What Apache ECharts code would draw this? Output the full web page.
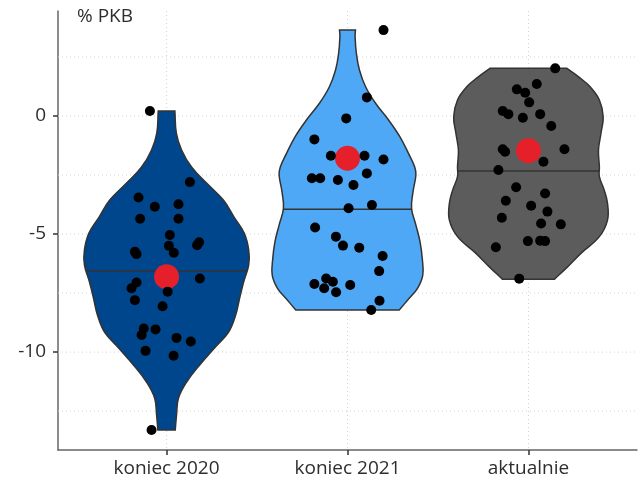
<!DOCTYPE html>
<html>
<head>
<meta charset="utf-8">
<script src="https://cdn.jsdelivr.net/npm/echarts@6/dist/echarts.min.js"></script>
<style>
  html, body { margin: 0; padding: 0; background: #fff; }
  #chart { width: 639px; height: 482px; }
</style>
</head>
<body>
<div id="chart"></div>
<script>
// kategorie i siatka
const categories = ['koniec 2020', 'koniec 2021', 'aktualnie'];
const yTicks = [-10, -5, 0];
const gridY = [2.5, 0, -2.5, -5, -7.5, -10, -12.5];
const gridX = [1, 2, 3];

// punkty (wartość, przesunięcie jitter w jednostkach kategorii)
const values2020 = [0.21, -2.80, -3.45, -3.84, -3.74, -4.35, -4.35, -5.04, -5.35, -5.47, -5.50, -5.75, -5.85, -5.79,
  -6.88, -7.05, -7.30, -7.44, -7.80, -8.06, -9.00, -9.04, -9.28, -9.40, -9.55, -9.95, -10.16, -13.30];
const jitter2020 = [-0.092, 0.129, -0.155, -0.065, 0.066, -0.146, 0.066, 0.018, 0.180, 0.169, 0.013, -0.175, -0.166, 0.040,
  0.184, -0.166, -0.194, 0.006, -0.175, -0.022, -0.126, -0.061, -0.138, 0.055, 0.134, -0.116, 0.039, -0.083];

const values2021 = [3.64, 0.79, -0.10, -0.99, -1.68, -1.68, -1.84, -2.43, -2.64, -2.64, -2.71, -2.92, -3.91, -3.77,
  -4.72, -5.11, -5.49, -5.58, -5.93, -6.57, -7.12, -6.88, -7.30, -7.02, -7.47, -7.16, -7.83, -8.22];
const jitter2021 = [0.199, 0.107, -0.007, -0.183, -0.092, 0.094, 0.199, 0.107, -0.197, -0.151, -0.053, 0.033, 0.006, 0.135,
  -0.179, -0.064, -0.025, 0.065, 0.194, 0.175, -0.183, -0.118, -0.129, -0.081, -0.063, 0.015, 0.177, 0.131];

const valuesNow = [2.02, 1.36, 1.13, 0.99, 0.58, 0.21, 0.08, -0.07, 0.08, -0.42, -1.41, -1.51, -1.41, -1.94,
  -2.29, -3.02, -3.28, -3.59, -3.80, -4.05, -4.31, -4.55, -4.59, -5.30, -5.28, -5.30, -5.56, -6.89];
const jitterNow = [0.148, 0.046, -0.064, -0.018, 0.004, -0.142, -0.111, -0.031, 0.065, 0.126, -0.142, -0.129, 0.199, 0.083,
  -0.166, -0.068, 0.092, -0.125, 0.015, 0.105, -0.147, 0.070, 0.179, -0.003, 0.065, 0.092, -0.180, -0.051];

// profil gęstości skrzypiec (poziom, połowa szerokości)
const densY2020 = [0.21, -0.72, -1.44, -2.16, -2.84, -3.56, -4.28, -4.96, -5.68, -6.31, -7.03, -7.71, -8.43, -9.15,
  -9.83, -10.55, -11.27, -11.95, -12.67, -13.30];
const densW2020 = [0.046, 0.054, 0.083, 0.138, 0.221, 0.314, 0.373, 0.429, 0.454, 0.454, 0.426, 0.404, 0.382, 0.343,
  0.265, 0.183, 0.111, 0.066, 0.055, 0.048];

const densY2021 = [3.64, 3.36, 2.66, 1.95, 1.24, 0.54, -0.17, -0.88, -1.58, -2.15, -2.50, -3.21, -3.91, -4.62,
  -5.33, -6.03, -6.74, -7.30, -7.72, -8.22];
const densW2021 = [0.044, 0.042, 0.049, 0.066, 0.100, 0.155, 0.227, 0.290, 0.337, 0.371, 0.378, 0.362, 0.354, 0.378,
  0.401, 0.413, 0.416, 0.387, 0.341, 0.286];

const densYNow = [2.02, 1.66, 1.24, 0.68, -0.03, -0.73, -1.44, -2.15, -2.57, -3.14, -3.70, -4.41, -5.11, -5.82, -6.39, -6.92];
const densWNow = [0.212, 0.277, 0.341, 0.392, 0.413, 0.401, 0.387, 0.392, 0.392, 0.419, 0.437, 0.437, 0.392, 0.290, 0.216, 0.143];

const means = [-6.81, -1.79, -1.47];
const medians = [-6.57, -3.95, -2.33];

const densY = [densY2020, densY2021, densYNow];
const densW = [densW2020, densW2021, densWNow];
const values = [values2020, values2021, valuesNow];
const jitters = [jitter2020, jitter2021, jitterNow];

const violinColors = ['#00468c', '#4fa8f6', '#5c5c5c'];
const textColor = '#2e2e2e';
const font = "'Open Sans', sans-serif";

const chart = echarts.init(document.getElementById('chart'));

function renderViolin(params, api) {
  const idx = params.dataIndex;
  const g = api.value(0);
  const m = api.value(1);
  const ys = densY[idx], ws = densW[idx];
  const n = ys.length;
  const p = (dx, y) => api.coord([g + dx, y]);
  const pts = [];
  // płaski wierzchołek (punkty zdublowane, żeby rogi były ostre)
  pts.push(p(-ws[0], ys[0]), p(-ws[0], ys[0]), p(ws[0], ys[0]), p(ws[0], ys[0]));
  for (let i = 1; i < n - 1; i++) pts.push(p(ws[i], ys[i]));
  pts.push(p(ws[n - 1], ys[n - 1]), p(ws[n - 1], ys[n - 1]), p(-ws[n - 1], ys[n - 1]), p(-ws[n - 1], ys[n - 1]));
  for (let i = n - 2; i >= 1; i--) pts.push(p(-ws[i], ys[i]));

  // szerokość na poziomie mediany
  let hw = ws[0];
  for (let i = 0; i < n - 1; i++) {
    if (m <= ys[i] && m >= ys[i + 1]) {
      const t = (ys[i] - m) / (ys[i] - ys[i + 1]);
      hw = ws[i] + t * (ws[i + 1] - ws[i]);
    }
  }
  const a = p(-hw, m), b = p(hw, m);
  return {
    type: 'group',
    children: [
      { type: 'polygon', shape: { points: pts, smooth: 0.4 },
        style: { fill: violinColors[idx], stroke: '#333', lineWidth: 1.5 } },
      { type: 'line', shape: { x1: a[0], y1: a[1], x2: b[0], y2: b[1] },
        style: { stroke: '#333', lineWidth: 1.5 } }
    ]
  };
}

const gridStyle = { stroke: '#d2d2d2', lineWidth: 1, lineDash: [1, 3] };

const option = {
  animation: false,
  title: {
    text: '% PKB',
    left: 77,
    top: 7,
    padding: 0,
    textStyle: { fontFamily: font, fontSize: 19, fontWeight: 'normal', color: textColor }
  },
  grid: { left: 58, right: 2, top: 11, bottom: 32 },
  xAxis: {
    type: 'value',
    min: 0.4,
    max: 3.6,
    splitLine: { show: false },
    axisLine: { onZero: false, lineStyle: { color: '#666', width: 1.5 } },
    axisTick: { customValues: gridX, length: 5, lineStyle: { color: '#333', width: 1.5 } },
    axisLabel: {
      customValues: gridX,
      margin: 9,
      fontFamily: font,
      fontSize: 19,
      color: textColor,
      formatter: (v) => categories[Math.round(v) - 1]
    }
  },
  yAxis: {
    type: 'value',
    min: -14.15,
    max: 4.45,
    splitLine: { show: false },
    axisLine: { show: true, onZero: false, lineStyle: { color: '#666', width: 1.5 } },
    axisTick: { show: true, customValues: yTicks, length: 5, lineStyle: { color: '#333', width: 1.5 } },
    axisLabel: { customValues: yTicks, margin: 12, fontFamily: font, fontSize: 19, color: textColor }
  },
  series: [
    {
      type: 'custom',
      z: 1,
      silent: true,
      data: gridY.map((v) => [v]),
      encode: { y: 0 },
      renderItem: (params, api) => {
        const c = params.coordSys;
        const y = api.coord([1, api.value(0)])[1];
        return { type: 'line', shape: { x1: c.x, y1: y, x2: c.x + c.width, y2: y }, style: gridStyle };
      }
    },
    {
      type: 'custom',
      z: 1,
      silent: true,
      data: gridX.map((v) => [v]),
      encode: { x: 0 },
      renderItem: (params, api) => {
        const c = params.coordSys;
        const x = api.coord([api.value(0), 0])[0];
        return { type: 'line', shape: { x1: x, y1: c.y, x2: x, y2: c.y + c.height }, style: gridStyle };
      }
    },
    {
      type: 'custom',
      z: 2,
      data: gridX.map((g, i) => [g, medians[i]]),
      encode: { x: 0, y: 1 },
      renderItem: renderViolin
    },
    {
      type: 'scatter',
      z: 3,
      symbolSize: 25,
      itemStyle: { color: '#e5202b', opacity: 1 },
      data: gridX.map((g, i) => [g, means[i]])
    },
    {
      type: 'scatter',
      z: 4,
      symbolSize: 10,
      itemStyle: { color: '#000', opacity: 1 },
      data: values.flatMap((vals, gi) => vals.map((v, i) => [gridX[gi] + jitters[gi][i], v]))
    }
  ]
};

chart.setOption(option);
window.onresize = function () {
  chart.resize();
};
</script>
</body>
</html>
